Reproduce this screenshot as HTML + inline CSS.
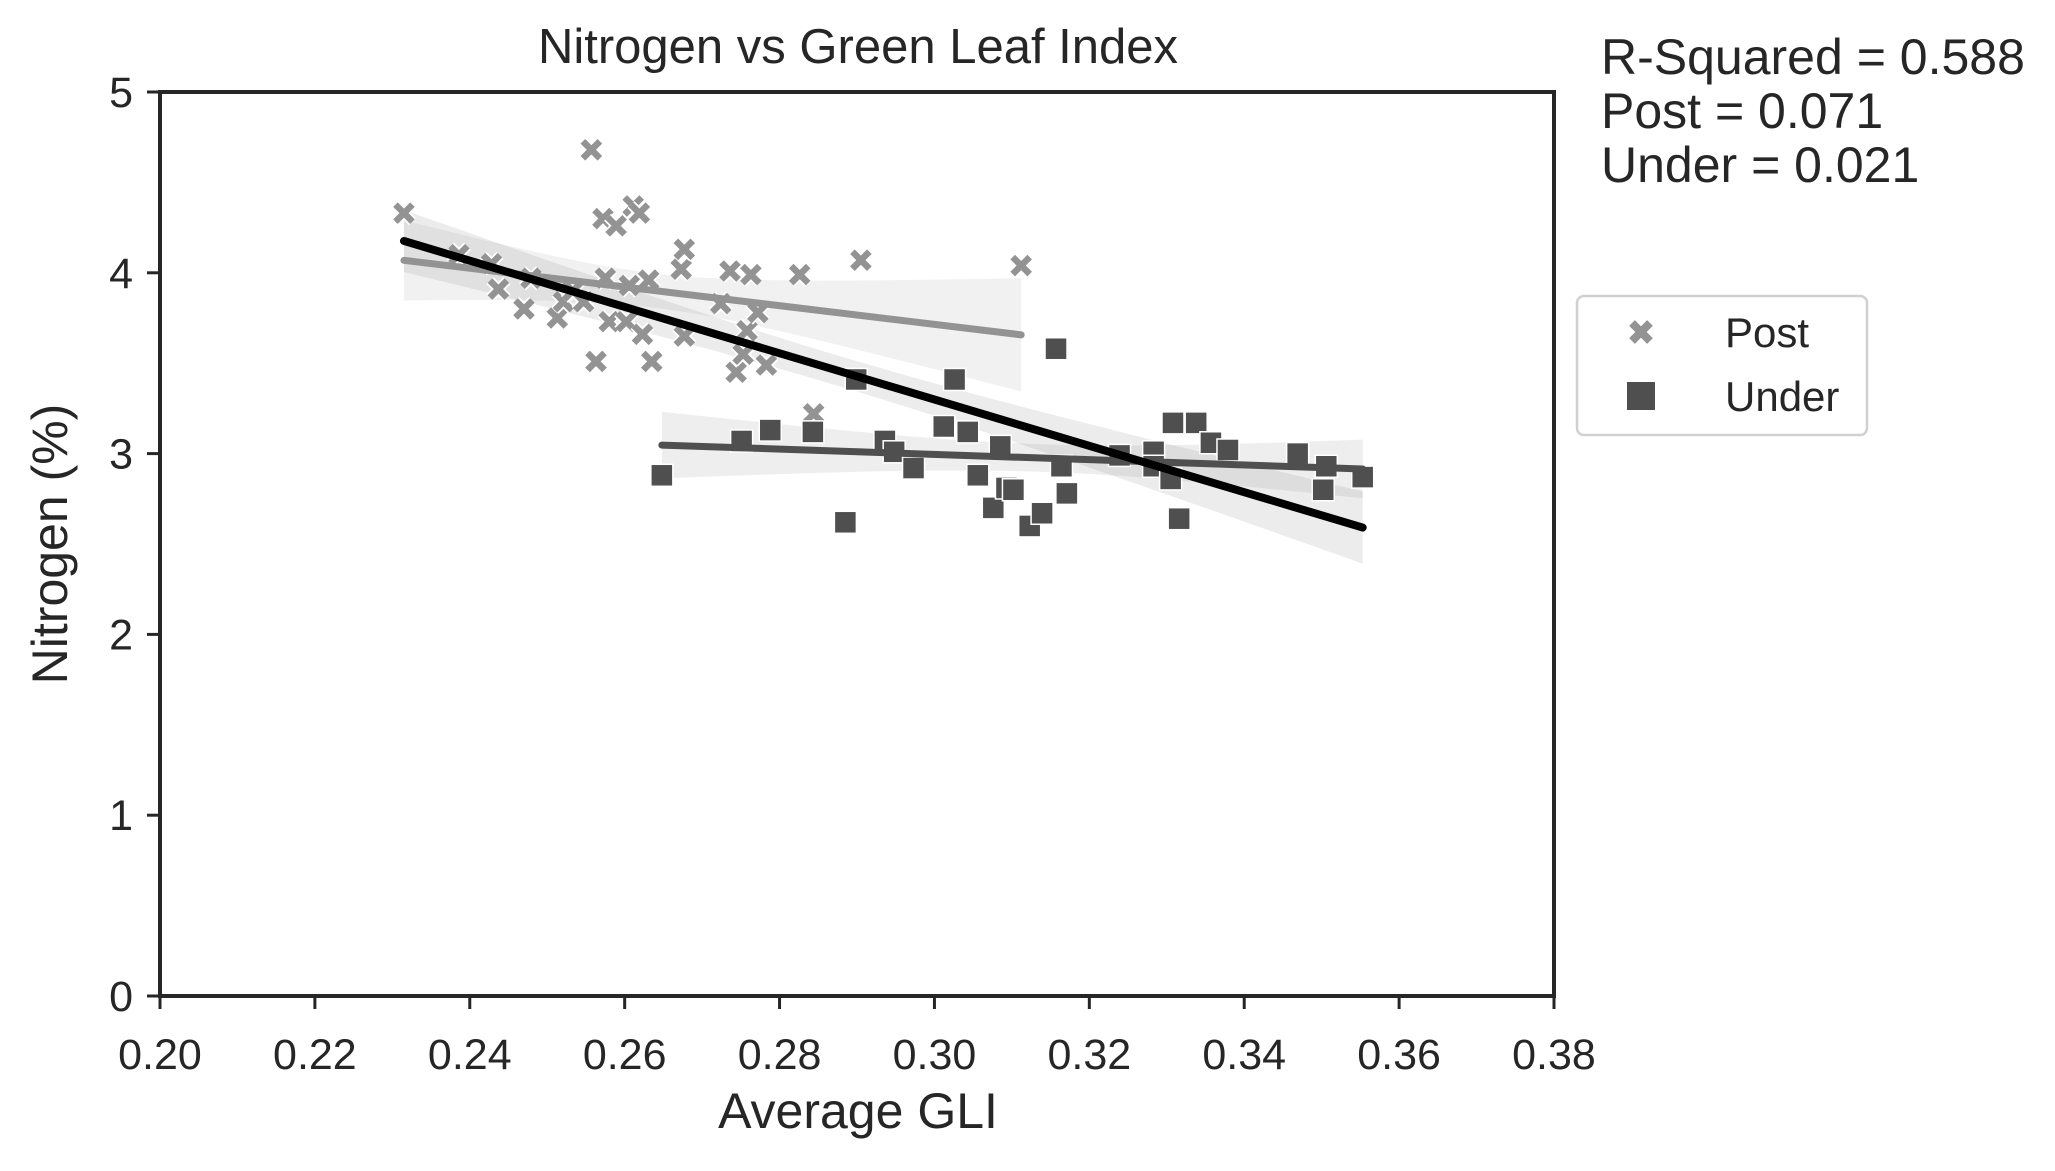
<!DOCTYPE html>
<html><head><meta charset="utf-8"><style>
html,body{margin:0;padding:0;background:#fff;}
svg{display:block;font-family:"Liberation Sans",sans-serif;}
</style></head><body>
<svg id="chart" width="2055" height="1171" viewBox="0 0 2055 1171">
<g id="bands"></g>
<g id="marks"></g>
<g id="lines"></g>
<g id="axes"></g>
<text x="858" y="63" font-size="49" fill="#262626" text-anchor="middle">Nitrogen vs Green Leaf Index</text>
<text x="858" y="1128" font-size="50" fill="#262626" text-anchor="middle">Average GLI</text>
<text x="0" y="0" font-size="50" fill="#262626" text-anchor="middle" transform="translate(67,544) rotate(-90)">Nitrogen (%)</text>
<g font-size="50" fill="#262626">
<text x="1601" y="74">R-Squared = 0.588</text>
<text x="1601" y="128">Post = 0.071</text>
<text x="1601" y="182">Under = 0.021</text>
</g>
<g>
<rect x="1577" y="296" width="290" height="139" rx="7" fill="#fff" stroke="#d0d0d0" stroke-width="2.5"/>
<g>
<path d="M1632,323 L1650,341 M1650,323 L1632,341" stroke="#939393" stroke-width="8"/>
<text x="1725" y="347" font-size="42" fill="#262626">Post</text>
</g>
<g>
<rect x="1627" y="382" width="28" height="28" fill="#4f4f4f"/>
<text x="1725" y="411" font-size="42" fill="#262626">Under</text>
</g>
</g>
</svg>
<script>
const postX=[0.2315,0.2386,0.2428,0.2437,0.2470,0.2479,0.2513,0.2521,0.2557,0.2563,0.2572,0.2575,0.2580,0.2589,0.2602,0.2606,0.2611,0.2619,0.2623,0.2631,0.2635,0.2673,0.2677,0.2677,0.2724,0.2736,0.2744,0.2753,0.2758,0.2763,0.2772,0.2783,0.2826,0.2844,0.2905,0.3112,0.2533,0.2547];
const postY=[4.33,4.10,4.05,3.91,3.80,3.97,3.75,3.84,4.68,3.51,4.30,3.97,3.73,4.26,3.73,3.93,4.37,4.33,3.66,3.96,3.51,4.02,4.13,3.65,3.83,4.01,3.45,3.55,3.68,3.99,3.78,3.49,3.99,3.22,4.07,4.04,3.90,3.84];
const underX=[0.2648,0.2751,0.2788,0.2843,0.2885,0.2899,0.2936,0.2948,0.2973,0.3012,0.3026,0.3043,0.3056,0.3076,0.3085,0.3093,0.3102,0.3123,0.3139,0.3157,0.3164,0.3171,0.3239,0.3283,0.3308,0.3316,0.3338,0.3357,0.3379,0.3469,0.3502,0.3506,0.3553,0.3283,0.3305];
const underY=[2.88,3.07,3.13,3.12,2.62,3.41,3.07,3.01,2.92,3.15,3.41,3.12,2.88,2.70,3.04,2.81,2.80,2.60,2.67,3.58,2.93,2.78,2.99,3.01,3.17,2.64,3.17,3.06,3.02,3.00,2.80,2.93,2.87,2.93,2.86];
const xTicks=[0.20,0.22,0.24,0.26,0.28,0.30,0.32,0.34,0.36,0.38];
const yTicks=[0,1,2,3,4,5];

const L=160,R=1554,T=92,B=996,X0=0.20,X1=0.38,Y0=0,Y1=5;
const sx=v=>L+(v-X0)/(X1-X0)*(R-L);
const sy=v=>B-(v-Y0)/(Y1-Y0)*(B-T);
const NS='http://www.w3.org/2000/svg';
function mk(tag,attrs,parent){const e=document.createElementNS(NS,tag);for(const k in attrs)e.setAttribute(k,attrs[k]);parent.appendChild(e);return e;}
const axes=document.getElementById('axes'),marks=document.getElementById('marks'),lines=document.getElementById('lines'),bands=document.getElementById('bands');

let sp=mk('path',{d:`M${L},${T} L${L},${B} L${R},${B} L${R},${T} Z`,fill:'none',stroke:'#262626','stroke-width':4},axes);


xTicks.forEach(t=>{
 const tk=mk('line',{x1:sx(t),x2:sx(t),y1:B,y2:B+13,stroke:'#262626','stroke-width':3},axes);
 
 
 const tx=mk('text',{x:sx(t),y:1069,'font-size':43,fill:'#262626','text-anchor':'middle'},axes);
 tx.textContent=t.toFixed(2);
 
 
});
yTicks.forEach(t=>{
 const tk=mk('line',{x1:L-13,x2:L,y1:sy(t),y2:sy(t),stroke:'#262626','stroke-width':3},axes);
 
 
 const tx=mk('text',{x:L-27,y:sy(t)+15,'font-size':43,fill:'#262626','text-anchor':'end'},axes);
 tx.textContent=String(t);
 
 
});

function fit(xs,ys){
 const n=xs.length,mx=xs.reduce((a,b)=>a+b)/n,my=ys.reduce((a,b)=>a+b)/n;
 let sxx=0,sxy=0;for(let i=0;i<n;i++){sxx+=(xs[i]-mx)**2;sxy+=(xs[i]-mx)*(ys[i]-my);}
 const b=sxy/sxx,a=my-b*mx;let sse=0;for(let i=0;i<n;i++)sse+=(ys[i]-a-b*xs[i])**2;
 const s=Math.sqrt(sse/(n-2));
 return {a,b,mx,sxx,n,s,xmin:Math.min(...xs),xmax:Math.max(...xs)};
}
function drawFit(f,color,width,name,bandColor){
 const N=40,up=[],lo=[];
 for(let i=0;i<=N;i++){const x=f.xmin+(f.xmax-f.xmin)*i/N;const y=f.a+f.b*x;
  const se=f.s*Math.sqrt(1/f.n+(x-f.mx)**2/f.sxx)*2.02;up.push([sx(x),sy(y+se)]);lo.push([sx(x),sy(y-se)]);}
 const pts=up.concat(lo.reverse()).map(p=>p.join(',')).join(' ');
 const bd=mk('polygon',{points:pts,fill:bandColor,'fill-opacity':0.15,stroke:'none'},bands);
 
 
 const ln=mk('line',{x1:sx(f.xmin),y1:sy(f.a+f.b*f.xmin),x2:sx(f.xmax),y2:sy(f.a+f.b*f.xmax),stroke:color,'stroke-width':width,'stroke-linecap':'round'},lines);
 
 
}
postX.forEach((x,i)=>{
 const cx=sx(x),cy=sy(postY[i]),d=8.5;
 const g=mk('g',{},marks);
 
 
 mk('path',{d:`M${cx-d},${cy-d} L${cx+d},${cy+d} M${cx+d},${cy-d} L${cx-d},${cy+d}`,stroke:'#fff','stroke-width':10},g);
 mk('path',{d:`M${cx-d},${cy-d} L${cx+d},${cy+d} M${cx+d},${cy-d} L${cx-d},${cy+d}`,stroke:'#939393','stroke-width':6.5},g);
});
underX.forEach((x,i)=>{
 const cx=sx(x),cy=sy(underY[i]);
 const r=mk('rect',{x:cx-11,y:cy-11,width:22,height:22,fill:'#4f4f4f',stroke:'#fff','stroke-width':1.5},marks);
 
 
});
drawFit(fit(postX,postY),'#939393',7,'post','#a0a0a0');
drawFit(fit(underX,underY),'#4f4f4f',7,'under','#909090');
drawFit(fit(postX.concat(underX),postY.concat(underY)),'#000',8,'overall','#808080');
</script>
</body></html>
